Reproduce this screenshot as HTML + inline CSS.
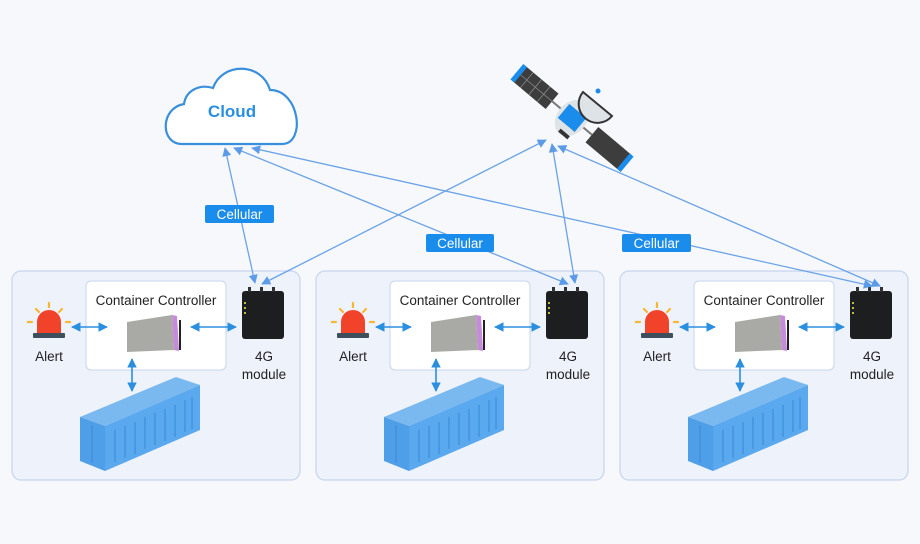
<!DOCTYPE html>
<html><head><style>
body{margin:0;background:#f7f8fc;}
svg{display:block;font-family:"Liberation Sans",sans-serif;}
</style></head><body>
<svg width="920" height="544" viewBox="0 0 920 544" xmlns="http://www.w3.org/2000/svg">
<defs>
<marker id="a" viewBox="0 0 10 10" refX="9" refY="5" markerWidth="7" markerHeight="7" orient="auto-start-reverse"><path d="M0,0 L10,5 L0,10 z" fill="#5b9be8"/></marker>
<marker id="b" viewBox="0 0 10 10" refX="9" refY="5" markerWidth="6" markerHeight="6" orient="auto-start-reverse"><path d="M0,0 L10,5 L0,10 z" fill="#2b8fe0"/></marker>
<g id="panel">
<rect x="12" y="271" width="288" height="209" rx="9" fill="#eef2fb" stroke="#c5d4f0" stroke-width="1.2"/>
<rect x="86" y="281" width="140" height="89" rx="5" fill="#fff" stroke="#c8d6ee"/>
<text x="156" y="305" font-size="13.5" text-anchor="middle" fill="#222">Container Controller</text>
<rect x="33" y="333" width="32" height="5" rx="1" fill="#3d4f5d"/>
<path d="M37,333 L37,322 A12,12 0 0 1 61,322 L61,333 z" fill="#f0432a"/>
<g stroke="#f7b731" stroke-width="2.2" stroke-linecap="round"><line x1="49" y1="303" x2="49" y2="307"/><line x1="36" y1="309" x2="39" y2="312"/><line x1="62" y1="309" x2="59" y2="312"/><line x1="28" y1="322" x2="32" y2="322"/><line x1="66" y1="322" x2="70" y2="322"/></g>
<text x="49" y="361" font-size="13.5" text-anchor="middle" fill="#222">Alert</text>
<polygon points="127,322 172,315 174,350 127,352" fill="#a9a9a6"/>
<polygon points="172,315 177,316 179,351 174,350" fill="#c58ad8"/>
<line x1="180" y1="320" x2="180" y2="350" stroke="#222" stroke-width="2"/>
<rect x="242" y="291" width="42" height="48" rx="3" fill="#1d1e20"/>
<g fill="#333"><rect x="248" y="287" width="3" height="5"/><rect x="260" y="287" width="3" height="5"/><rect x="272" y="287" width="3" height="5"/></g>
<g fill="#c8b840"><rect x="244" y="302" width="2" height="2"/><rect x="244" y="307" width="2" height="2"/><rect x="244" y="312" width="2" height="2"/></g>
<text x="264" y="361" font-size="13.5" text-anchor="middle" fill="#222">4G</text>
<text x="264" y="379" font-size="13.5" text-anchor="middle" fill="#222">module</text>
<polygon points="80,417 176,377 200,385 105,426" fill="#7ab8f0"/>
<polygon points="80,417 105,426 105,471 80,461" fill="#4f9fe8"/>
<polygon points="105,426 200,385 200,430 105,471" fill="#5aa8ee"/>
<g stroke="#3c8fdc" stroke-width="1.2">
<line x1="115" y1="430" x2="115" y2="462"/><line x1="125" y1="426" x2="125" y2="458"/><line x1="135" y1="422" x2="135" y2="454"/><line x1="145" y1="417" x2="145" y2="449"/><line x1="155" y1="413" x2="155" y2="445"/><line x1="165" y1="409" x2="165" y2="441"/><line x1="175" y1="405" x2="175" y2="437"/><line x1="185" y1="400" x2="185" y2="432"/><line x1="192" y1="397" x2="192" y2="429"/>
<line x1="92" y1="425" x2="92" y2="463"/>
</g>
<g stroke="#2b8fe0" stroke-width="1.6" fill="none">
<line x1="72" y1="327" x2="107" y2="327" marker-start="url(#b)" marker-end="url(#b)"/>
<line x1="191" y1="327" x2="236" y2="327" marker-start="url(#b)" marker-end="url(#b)"/>
<line x1="132" y1="359" x2="132" y2="391" marker-start="url(#b)" marker-end="url(#b)"/>
</g>
</g>
</defs>
<use href="#panel"/>
<use href="#panel" x="304"/>
<use href="#panel" x="608"/>
<path d="M182,144 C160,144 160,108 184,104 C186,90 200,84 213,88 C222,62 262,62 270,90 C300,90 306,144 282,144 Z" fill="#fff" stroke="#3a8fdc" stroke-width="2.2"/>
<text x="232" y="117" font-size="17" font-weight="bold" text-anchor="middle" fill="#2b8fe0">Cloud</text>
<g stroke="#6aa3e6" stroke-width="1.3" fill="none">
<line x1="255" y1="283" x2="225" y2="148" marker-start="url(#a)" marker-end="url(#a)"/>
<line x1="568" y1="284" x2="234" y2="148" marker-start="url(#a)" marker-end="url(#a)"/>
<line x1="872" y1="286" x2="252" y2="148" marker-start="url(#a)" marker-end="url(#a)"/>
<line x1="262" y1="284" x2="546" y2="140" marker-start="url(#a)" marker-end="url(#a)"/>
<line x1="575" y1="283" x2="552" y2="144" marker-start="url(#a)" marker-end="url(#a)"/>
<line x1="880" y1="286" x2="558" y2="146" marker-start="url(#a)" marker-end="url(#a)"/>
</g>
<g font-size="13.5" fill="#fff" text-anchor="middle">
<rect x="205" y="205" width="69" height="18" rx="2" fill="#1a8ceb"/><text x="239.5" y="219">Cellular</text>
<rect x="426" y="234" width="68" height="18" rx="2" fill="#1a8ceb"/><text x="460" y="248">Cellular</text>
<rect x="622" y="234" width="69" height="18" rx="2" fill="#1a8ceb"/><text x="656.5" y="248">Cellular</text>
</g>
<g transform="translate(572,118) rotate(40)">
<rect x="-70" y="-10" width="44" height="20" fill="#3d3d3d"/>
<g stroke="#888" stroke-width="0.8"><line x1="-59" y1="-10" x2="-59" y2="10"/><line x1="-48" y1="-10" x2="-48" y2="10"/><line x1="-37" y1="-10" x2="-37" y2="10"/><line x1="-70" y1="0" x2="-26" y2="0"/><line x1="37" y1="-10" x2="37" y2="10"/><line x1="48" y1="-10" x2="48" y2="10"/><line x1="59" y1="-10" x2="59" y2="10"/><line x1="26" y1="0" x2="70" y2="0"/></g>
<rect x="-72" y="-10" width="5" height="20" fill="#1a8ceb"/>
<rect x="26" y="-10" width="44" height="20" fill="#3d3d3d"/>
<rect x="67" y="-10" width="5" height="20" fill="#1a8ceb"/>
<line x1="-26" y1="0" x2="26" y2="0" stroke="#777" stroke-width="2"/>
<ellipse cx="0" cy="0" rx="15" ry="20" fill="#dde3e6"/>
<rect x="-11" y="-9" width="22" height="18" fill="#1a8ceb"/>
</g>
<path d="M583,92 A18,18 0 0 0 612,116 Z" fill="#dde3e6" stroke="#333" stroke-width="2"/>
<circle cx="598" cy="91" r="2.5" fill="#1a8ceb"/>
<rect x="558" y="132" width="12" height="4" fill="#333" transform="rotate(40 564 134)"/>
</svg>
</body></html>
